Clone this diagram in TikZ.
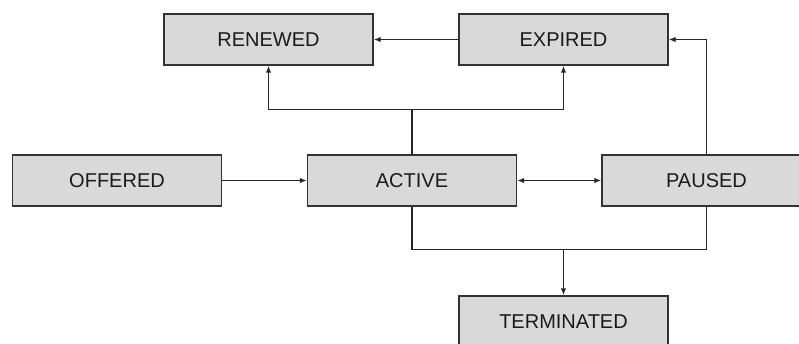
\documentclass[tikz,border=0pt]{standalone}
\usepackage{fontspec}
\setmainfont{Liberation Sans}
\usetikzlibrary{arrows.meta,calc}
\definecolor{boxfill}{HTML}{D9D9D9}
\definecolor{boxline}{HTML}{333333}
\definecolor{txt}{HTML}{1A1A1A}
\begin{document}
\begin{tikzpicture}[x=1pt,y=-1pt,
  state/.style={draw=boxline,fill=boxfill,line width=1.4pt,minimum width=209pt,minimum height=51pt,inner sep=0pt,
    text=txt,font=\fontsize{20}{24}\selectfont},
  conn/.style={draw=black!85,line width=1.3pt},
  arr/.style={conn,-{Latex[length=7pt,width=5.5pt]}}]
\useasboundingbox (0,0) rectangle (799,344);
\begin{scope}
\clip (0,0) rectangle (799,344);
\node[state] (renewed) at (268.5,39.5) {RENEWED};
\node[state] (expired) at (563.5,39.5) {EXPIRED};
\node[state] (offered) at (117,180.5) {OFFERED};
\node[state] (active) at (412,180.5) {ACTIVE};
\node[state] (paused) at (706.5,180.5) {PAUSED};
\node[state] (terminated) at (563.5,321.5) {TERMINATED};
\coordinate (j1) at ($(active.north)+(0,-45)$);
\coordinate (j2) at ($(terminated.north)+(0,-46)$);
\draw[arr] (expired.west) -- (renewed.east);
\draw[conn] (active.north) -- (j1);
\draw[arr] (j1) -| (renewed.south);
\draw[arr] (j1) -| (expired.south);
\draw[arr] (paused.north) |- (expired.east);
\draw[arr] (offered.east) -- (active.west);
\draw[conn,{Latex[length=7pt,width=5.5pt]}-{Latex[length=7pt,width=5.5pt]}] (active.east) -- (paused.west);
\draw[conn] (active.south) -- (active.south |- j2) -- (paused.south |- j2) -- (paused.south);
\draw[arr] (j2) -- (terminated.north);
\end{scope}
\end{tikzpicture}
\end{document}
